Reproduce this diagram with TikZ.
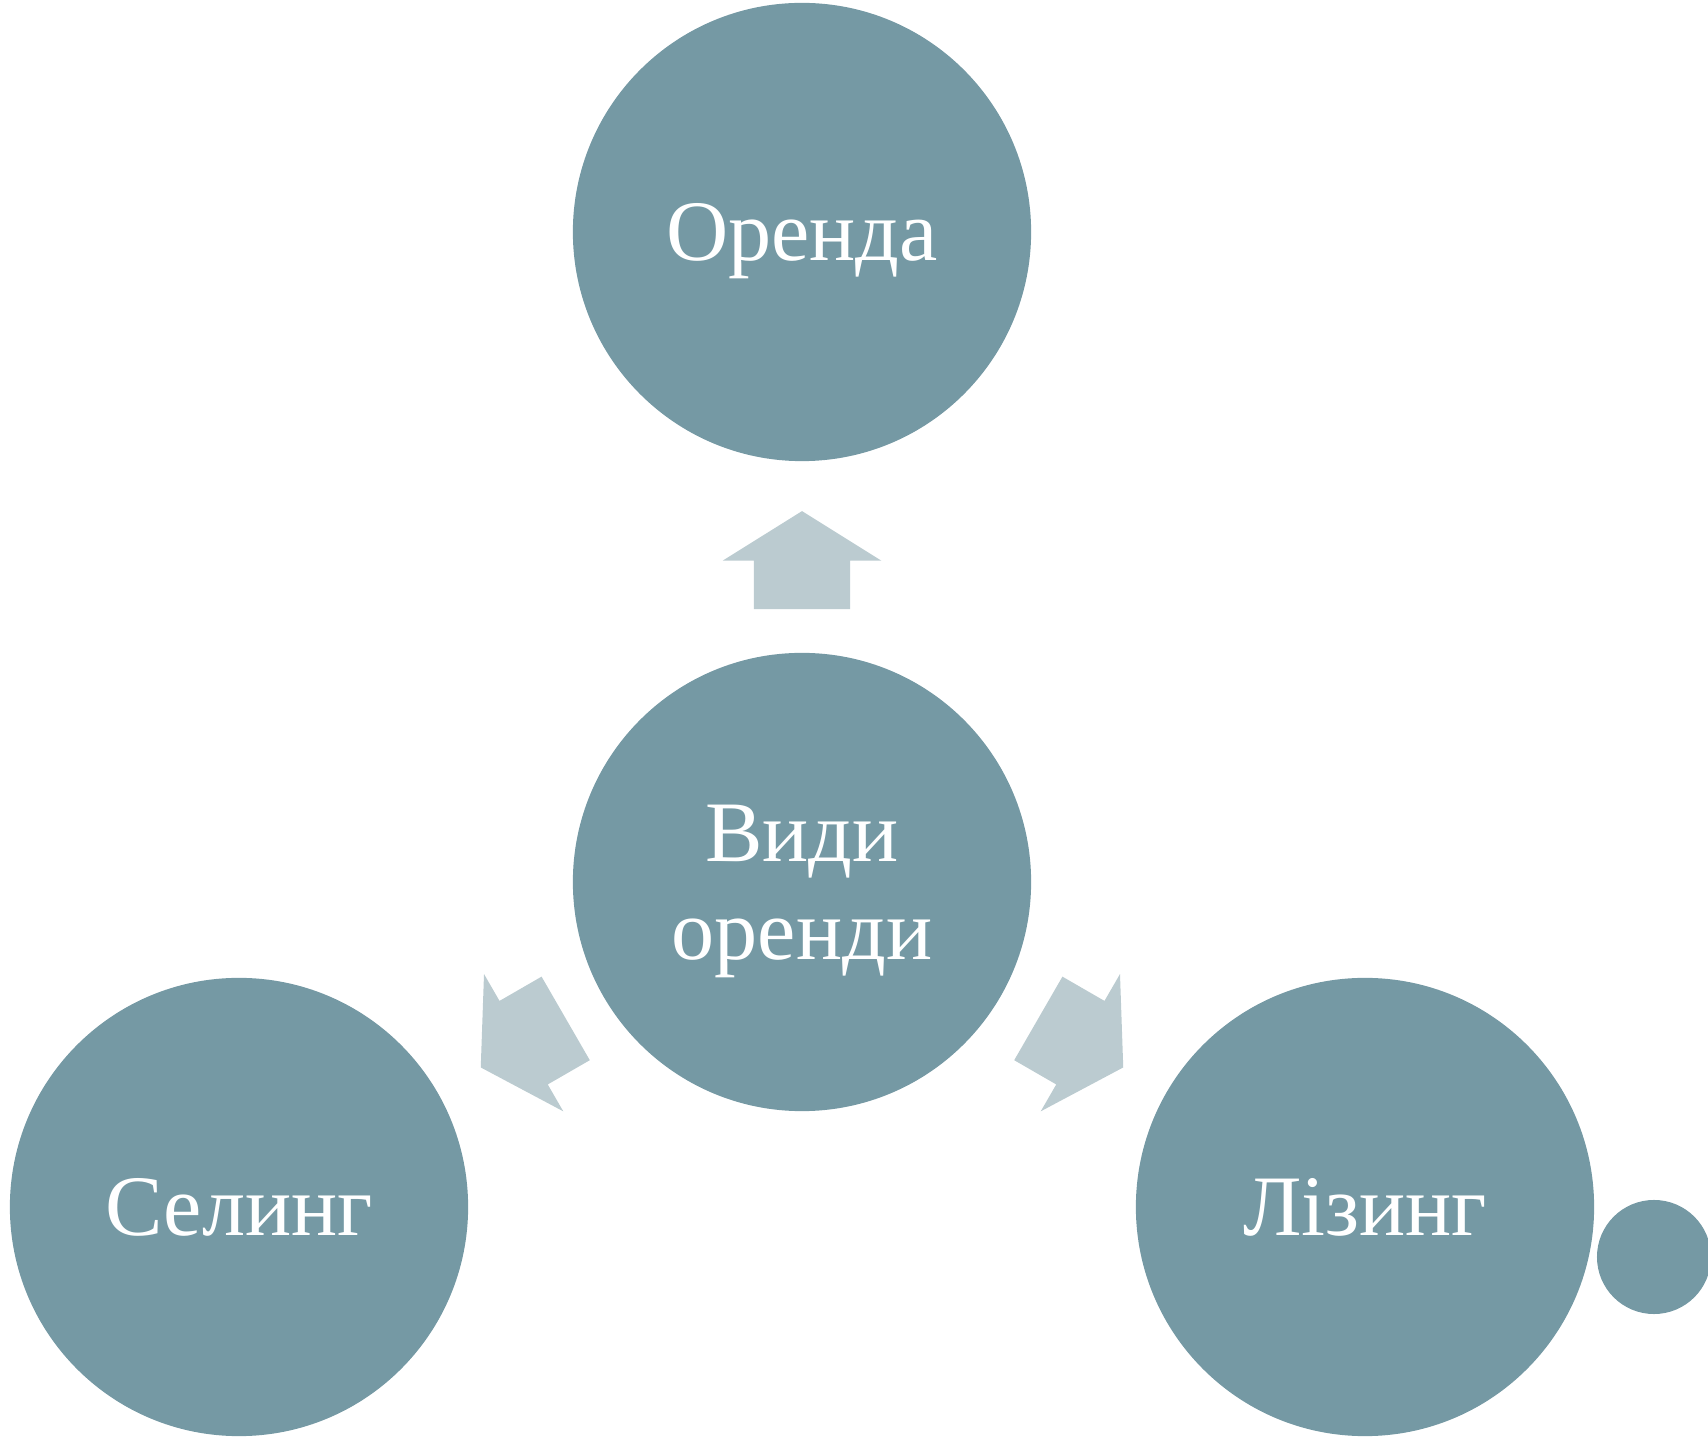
\documentclass[tikz,border=0pt]{standalone}
\usepackage{fontspec}
\setmainfont{Liberation Serif}
\usetikzlibrary{shapes.arrows,calc}
\definecolor{circfill}{RGB}{117,153,164}
\definecolor{arrfill}{RGB}{187,203,208}
\tikzset{
  bigcirc/.style={circle, fill=circfill, minimum size=4.58cm, inner sep=0pt, text=white,
    font=\fontsize{24.5}{27.9}\selectfont, align=center, text depth=0pt},
  dotcirc/.style={circle, fill=circfill, minimum size=1.14cm, inner sep=0pt},
  blockarr/.style={single arrow, fill=arrfill, minimum height=0.98cm, inner xsep=0pt,
    inner ysep=0.475cm, single arrow head extend=0.31cm, single arrow tip angle=116,
    single arrow head indent=0pt}
}
\begin{document}
\begin{tikzpicture}[x=0.01cm,y=-0.01cm]
\useasboundingbox (0,0) rectangle (1708,1440);
\node[bigcirc] (types) at (802,882) {Види\\оренди};
\node[bigcirc] (rent) at (802,232) {Оренда};
\node[bigcirc] (selling) at (239,1207) {Селинг};
\node[bigcirc] (leasing) at (1365,1207) {Лізинг};
\node[dotcirc] (dot) at (1654,1257) {};
\node[blockarr, rotate=90] (arrRent) at ($(types)!0.472!(rent)$) {};
\node[blockarr, rotate=210] (arrSelling) at ($(types)!0.472!(selling)$) {};
\node[blockarr, rotate=330] (arrLeasing) at ($(types)!0.472!(leasing)$) {};
\end{tikzpicture}
\end{document}
